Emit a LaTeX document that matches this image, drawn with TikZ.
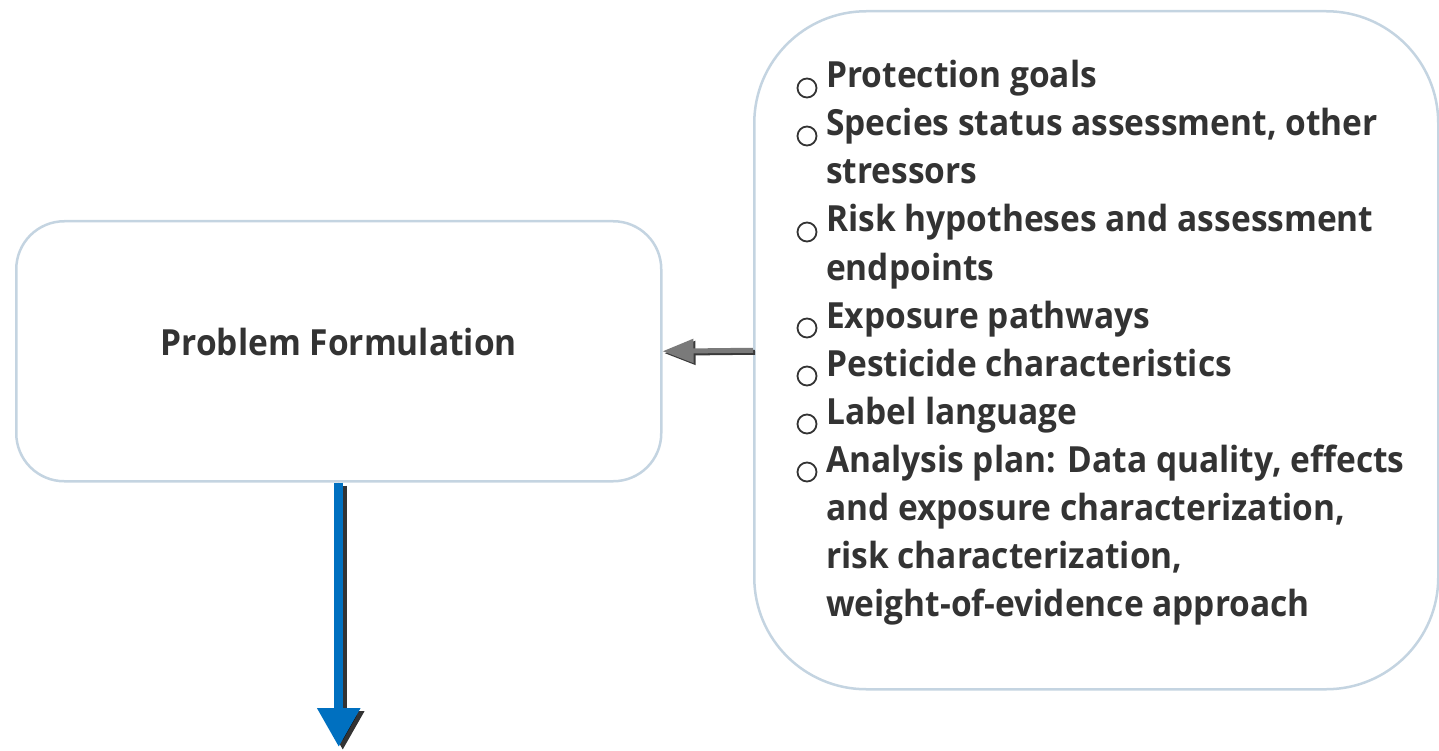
\documentclass[tikz,border=0pt]{standalone}
\usepackage{fontspec}
\setmainfont{Open Sans}[FakeStretch=0.93]
\usetikzlibrary{arrows.meta}
\definecolor{boxline}{HTML}{C4D4E1}
\definecolor{txt}{HTML}{333333}
\definecolor{flowblue}{HTML}{0070C0}
\definecolor{arrowgray}{HTML}{7A7A7A}
\definecolor{arrowdark}{HTML}{3A3A3A}
\begin{document}
\begin{tikzpicture}[x=1pt,y=-1pt,
  panel/.style={draw=boxline, line width=2.5pt, fill=white},
  itemline/.style={anchor=base west, inner sep=0pt, font=\fontsize{36}{43}\selectfont\bfseries, text=txt},
  bulletmark/.style={circle, draw=txt, line width=1.8pt, minimum size=19pt, inner sep=0pt},
  flowarrow/.style={line width=9pt, -{Triangle[length=39pt,width=41pt]}},
  feedarrow/.style={line width=5pt, -{Triangle[length=31pt,width=23pt]}}
]
\useasboundingbox (0,0) rectangle (1439,751);

% boxes
\node[panel, anchor=north west, minimum width=645pt, minimum height=260pt, rounded corners=48pt] (pf) at (15,220) {};
\node[itemline, anchor=base] (pftext) at (pf.center |- 0,355) {Problem Formulation};
\node[panel, anchor=north west, minimum width=684pt, minimum height=678pt, rounded corners=112pt] (info) at (753,10) {};

% item list
\node[itemline] (l0) at (826,88) {Protection goals};
\node[itemline] (l1) at (826,136) {Species status assessment, other};
\node[itemline] (l2) at (826,184) {stressors};
\node[itemline] (l3) at (826,232) {Risk hypotheses and assessment};
\node[itemline] (l4) at (826,280) {endpoints};
\node[itemline] (l5) at (826,328) {Exposure pathways};
\node[itemline] (l6) at (826,376) {Pesticide characteristics};
\node[itemline] (l7) at (826,424) {Label language};
\node[itemline] (l8) at (826,472) {Analysis plan: Data quality, effects};
\node[itemline] (l9) at (826,520) {and exposure characterization,};
\node[itemline] (l10) at (826,568) {risk characterization,};
\node[itemline] (l11) at (826,616) {weight-of-evidence approach};

\foreach \b/\y in {b0/88, b1/136, b3/232, b5/328, b6/376, b7/424, b8/472}
  \node[bulletmark] (\b) at (807,\y) {};

% arrow from the list into the problem box
\begin{scope}[transform canvas={shift={(2pt,-2pt)}}]
  \draw[feedarrow, draw=arrowdark, fill=arrowdark] (info.west) -- (pf.east);
\end{scope}
\draw[feedarrow, draw=arrowgray, fill=arrowgray] (info.west) -- (pf.east);

% downward flow arrow
\coordinate (flowend) at (pf.south |- 0,747);
\begin{scope}[transform canvas={shift={(4pt,-3pt)}}]
  \draw[flowarrow, draw=black, fill=black, opacity=0.8] (pf.south) -- (flowend);
\end{scope}
\draw[flowarrow, draw=flowblue, fill=flowblue] (pf.south) -- (flowend);
\end{tikzpicture}
\end{document}
